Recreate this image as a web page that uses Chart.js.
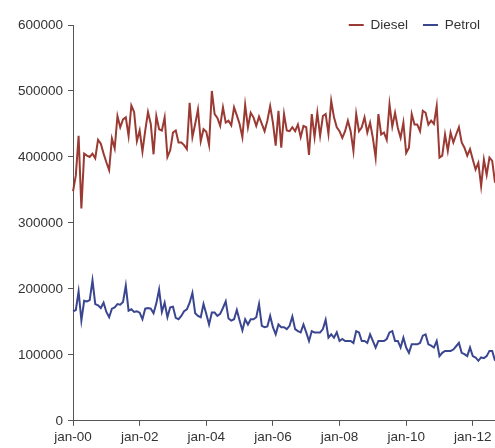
<!DOCTYPE html>
<html>
<head>
<meta charset="utf-8">
<script src="https://cdn.jsdelivr.net/npm/chart.js@4"></script>
<style>
  html, body { margin: 0; padding: 0; background: #fff; }
  #wrap { width: 495px; height: 448px; }
</style>
</head>
<body>
<div id="wrap"><canvas id="graph"></canvas></div>
<script>
const monthNames = ['jan', 'feb', 'mar', 'apr', 'mai', 'jun', 'jul', 'aug', 'sep', 'okt', 'nov', 'des'];
const years = ['00', '01', '02', '03', '04', '05', '06', '07', '08', '09', '10', '11', '12'];
const months = [];
years.forEach(y => monthNames.forEach(m => months.push(m + '-' + y)));
months.length = 153; // jan-00 .. sep-12

const diesel = [
    348000, 372000, 432000, 322000, 405000, 402000, 400000, 405000, 398000, 426000,
    420000, 405000, 392000, 380000, 428000, 413000, 462000, 445000, 457000, 460000,
    432000, 478000, 468000, 424000, 440000, 408000, 440000, 468000, 450000, 404000,
    462000, 442000, 440000, 460000, 400000, 410000, 437000, 440000, 422000, 422000,
    418000, 412000, 482000, 430000, 450000, 472000, 424000, 442000, 438000, 418000,
    500000, 465000, 459000, 447000, 475000, 452000, 455000, 448000, 475000, 463000,
    450000, 430000, 479000, 445000, 467000, 460000, 447000, 461000, 450000, 439000,
    455000, 477000, 452000, 417000, 470000, 414000, 465000, 440000, 439000, 445000,
    439000, 449000, 430000, 447000, 445000, 403000, 465000, 430000, 467000, 432000,
    462000, 465000, 435000, 485000, 460000, 445000, 439000, 429000, 439000, 455000,
    439000, 409000, 465000, 439000, 445000, 460000, 437000, 452000, 429000, 399000,
    465000, 434000, 437000, 426000, 480000, 446000, 467000, 444000, 429000, 452000,
    406000, 414000, 465000, 449000, 449000, 439000, 470000, 467000, 449000, 455000,
    450000, 477000, 399000, 402000, 434000, 409000, 437000, 422000, 434000, 445000,
    422000, 414000, 402000, 412000, 396000, 381000, 391000, 356000, 396000, 373000,
    399000, 394000, 361000
];

const petrol = [
    166000, 168000, 196000, 152000, 182000, 181000, 183000, 213000, 177000, 175000,
    171000, 179000, 165000, 157000, 170000, 172000, 177000, 176000, 180000, 205000,
    167000, 169000, 165000, 166000, 164000, 154000, 170000, 171000, 170000, 163000,
    178000, 199000, 165000, 179000, 157000, 172000, 173000, 156000, 154000, 159000,
    166000, 169000, 179000, 194000, 163000, 159000, 157000, 177000, 162000, 146000,
    164000, 164000, 159000, 162000, 171000, 181000, 155000, 152000, 154000, 168000,
    152000, 137000, 154000, 146000, 154000, 154000, 157000, 177000, 144000, 142000,
    143000, 159000, 142000, 131000, 146000, 142000, 142000, 139000, 144000, 158000,
    139000, 136000, 134000, 146000, 134000, 121000, 136000, 134000, 134000, 134000,
    139000, 153000, 126000, 131000, 126000, 134000, 121000, 124000, 121000, 121000,
    121000, 118000, 136000, 134000, 121000, 121000, 118000, 131000, 121000, 111000,
    121000, 121000, 121000, 124000, 134000, 136000, 121000, 121000, 111000, 126000,
    111000, 103000, 116000, 116000, 116000, 118000, 129000, 131000, 116000, 114000,
    111000, 121000, 98000, 103000, 106000, 106000, 106000, 108000, 113000, 118000,
    103000, 101000, 98000, 111000, 98000, 96000, 91000, 96000, 95000, 98000,
    106000, 106000, 91000
];

const axisColor = '#555';
const textColor = '#333';
const font = { family: "'Liberation Sans', Arial, sans-serif", size: 13.5 };

// legend takes no room in the layout; it is drawn inside the plot area,
// its text level with the top tick
const legendInside = {
    id: 'legendInside',
    afterLayout(chart) {
        const lg = chart.legend;
        const lab = lg.options.labels;
        lg.top = chart.chartArea.top - lab.padding - lab.font.size / 2;
        lg.bottom = lg.top + 2 * lab.padding + lab.font.size;
    }
};

const config = {
    type: 'line',
    data: {
        labels: months,
        datasets: [
            {
                label: 'Diesel',
                data: diesel,
                borderColor: '#9a3a33',
                backgroundColor: '#9a3a33',
                borderWidth: 2,
                pointRadius: 0,
                tension: 0
            },
            {
                label: 'Petrol',
                data: petrol,
                borderColor: '#3b4690',
                backgroundColor: '#3b4690',
                borderWidth: 2,
                pointRadius: 0,
                tension: 0
            }
        ]
    },
    options: {
        responsive: true,
        maintainAspectRatio: false,
        animation: false,
        layout: { padding: { left: 13, top: 24, right: 0, bottom: 0 } },
        scales: {
            x: {
                offset: false,
                afterBuildTicks: axis => {
                    axis.ticks = axis.ticks.filter(t => t.value % 24 === 0);
                },
                ticks: {
                    autoSkip: false,
                    maxRotation: 0,
                    padding: 3,
                    color: textColor,
                    font: font
                },
                grid: {
                    drawOnChartArea: false,
                    tickLength: 5,
                    color: axisColor
                },
                border: { color: axisColor, width: 1 }
            },
            y: {
                min: 0,
                max: 600000,
                ticks: {
                    stepSize: 100000,
                    padding: 5,
                    color: textColor,
                    font: font,
                    callback: v => String(v)
                },
                grid: {
                    drawOnChartArea: false,
                    tickLength: 5,
                    color: axisColor
                },
                border: { color: axisColor, width: 1 }
            }
        },
        plugins: {
            legend: {
                position: 'top',
                align: 'end',
                maxHeight: 1,
                labels: {
                    usePointStyle: true,
                    pointStyle: 'line',
                    pointStyleWidth: 15,
                    padding: 15,
                    color: textColor,
                    font: font
                }
            },
            tooltip: { enabled: false }
        }
    },
    plugins: [legendInside]
};

const myChart = new Chart(document.getElementById('graph'), config);
</script>
</body>
</html>
